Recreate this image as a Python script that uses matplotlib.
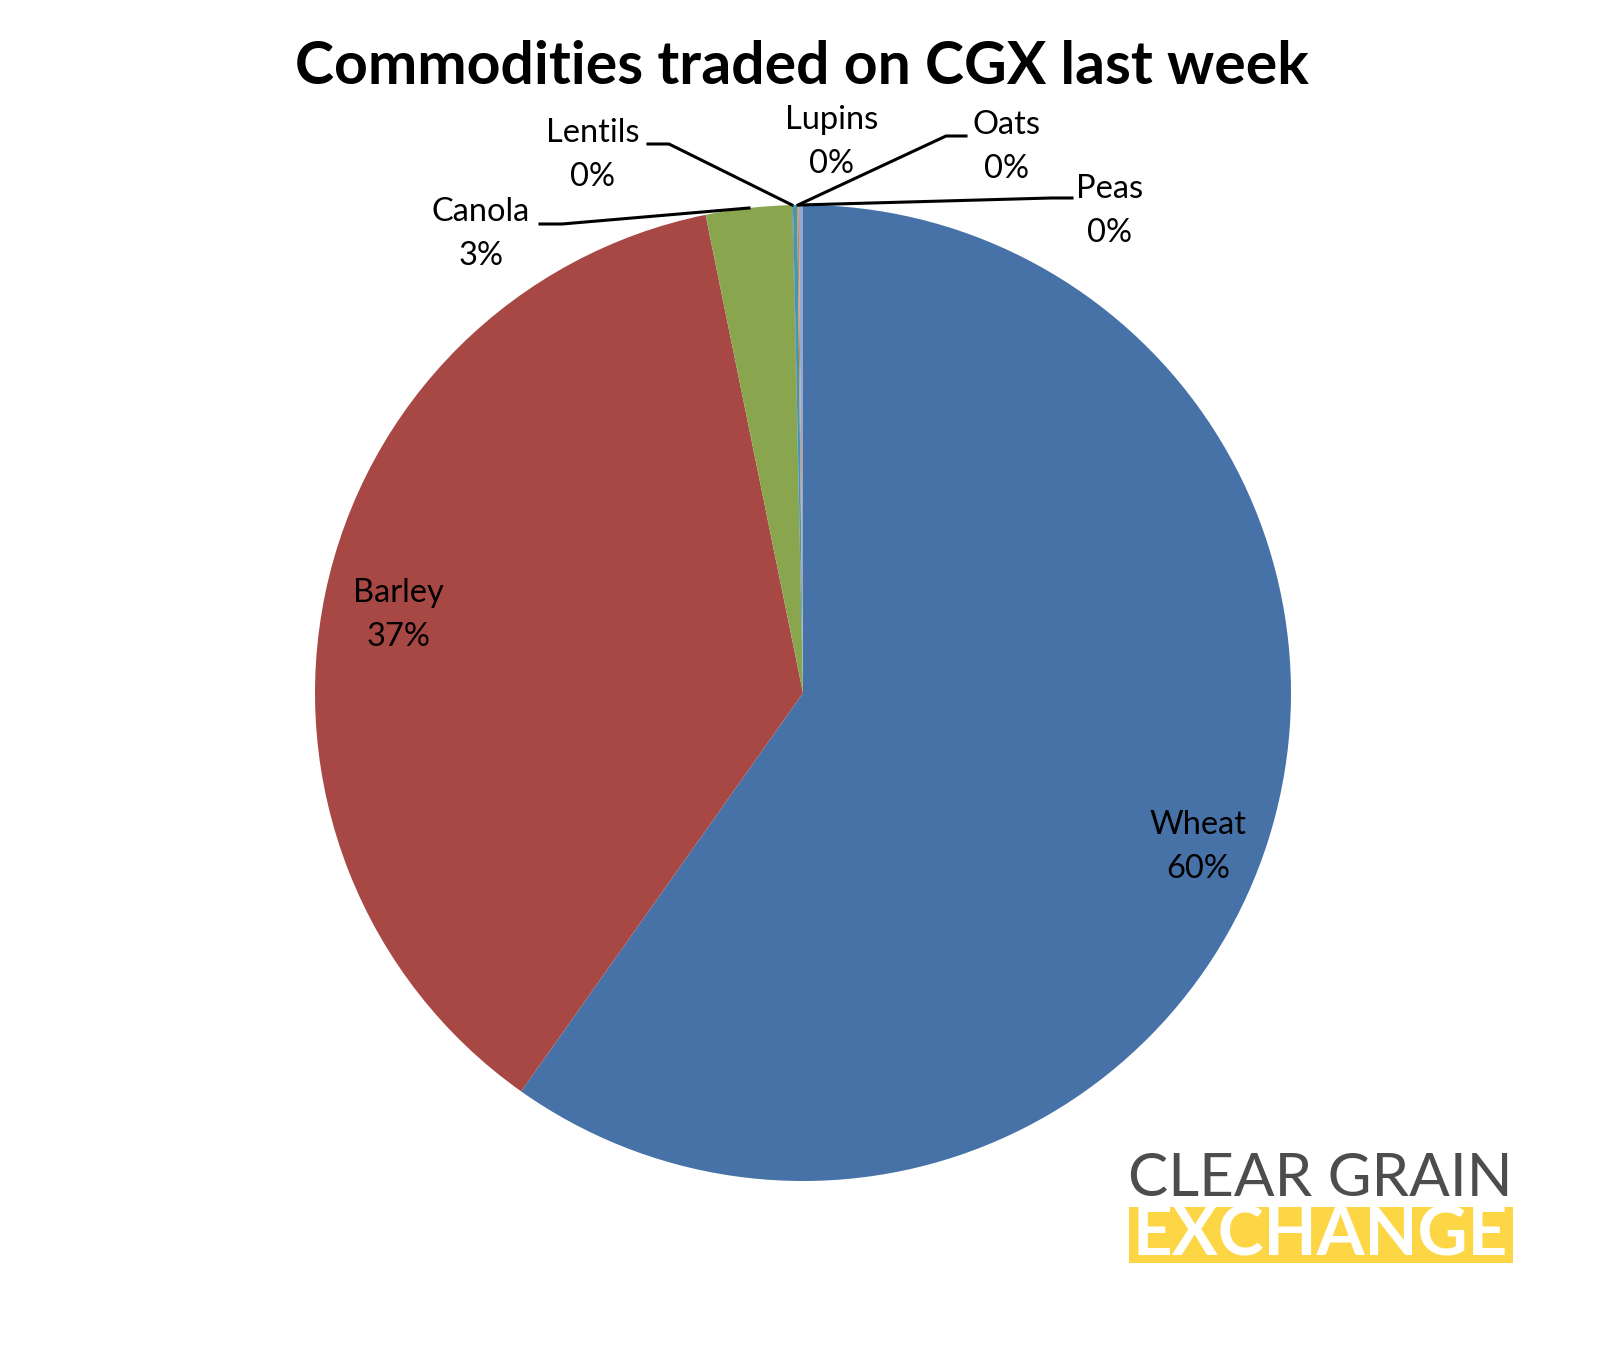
import matplotlib
matplotlib.use("Agg")
import matplotlib.pyplot as plt
from matplotlib.patches import Rectangle

# ---- data ----
categories = ["Wheat", "Barley", "Canola", "Lentils", "Lupins", "Oats", "Peas"]
values = [59.8, 37.0, 2.85, 0.02, 0.14, 0.05, 0.14]
pct_labels = ["60%", "37%", "3%", "0%", "0%", "0%", "0%"]
colors = ["#4672A7", "#A84845", "#89A54E", "#71588F", "#4198AF", "#DB843D", "#93A9CF"]
title = "Commodities traded on CGX last week"

W, H = 1608, 1350
fig = plt.figure(figsize=(W / 100, H / 100), dpi=100)
plt.rcParams['font.family'] = ['Lato', 'DejaVu Sans']

def fp(x, y):
    return (x / W, 1 - y / H)

cx, cy, r = 803, 693, 488
ax = fig.add_axes([(cx - r) / W, (H - cy - r) / H, 2 * r / W, 2 * r / H])
wedges, _ = ax.pie(values, colors=colors, startangle=90, counterclock=False,
                   wedgeprops=dict(linewidth=0))
ax.set_xlim(-1, 1)
ax.set_ylim(-1, 1)
ax.set_aspect('equal')
ax.axis('off')

fs = 23.5
# label positions (pixels from top-left) - layout only
label_pos = {
    "Wheat": (1198, 847),
    "Barley": (398, 615),
    "Canola": (481, 234),
    "Lentils": (593, 155),
    "Lupins": (832, 142),
    "Oats": (1007, 147),
    "Peas": (1110, 211),
}
for cat, pct in zip(categories, pct_labels):
    x, y = label_pos[cat]
    fig.text(*fp(x, y), f"{cat}\n{pct}", ha="center", va="center", fontsize=fs,
             linespacing=1.55, color="black")

# leader lines
leaders = [
    [(749, 208), (562, 224), (540, 224)],   # Canola
    [(792, 205), (669, 144), (648, 144)],   # Lentils
    [(798, 205), (946, 136), (966, 136)],   # Oats
    [(800, 205), (1051, 198), (1072, 198)], # Peas
]
for pts in leaders:
    xs = [fp(*p)[0] for p in pts]
    ys = [fp(*p)[1] for p in pts]
    fig.add_artist(plt.Line2D(xs, ys, transform=fig.transFigure, color="black", lw=2.2))

renderer = fig.canvas.get_renderer()

def fit_text(txt, x0, x1, ybase, size0, **kw):
    t = fig.text(*fp(x0, ybase), txt, ha="left", va="baseline", fontsize=size0, **kw)
    bb = t.get_window_extent(renderer)
    t.set_fontsize(size0 * (x1 - x0) / bb.width)
    return t

# title
fit_text(title, 295, 1311, 84, 34, fontweight="bold", color="black")

# logo
fit_text("CLEAR GRAIN", 1128, 1513, 1196, 36, color="#4D4D4D")
fig.add_artist(Rectangle(fp(1129, 1263), (1513 - 1129) / W, (1263 - 1207) / H,
                         transform=fig.transFigure, color="#FDD645", lw=0))
fit_text("EXCHANGE", 1133, 1509, 1255, 40, color="white", fontweight="bold")

fig.savefig("out.png", dpi=100)
